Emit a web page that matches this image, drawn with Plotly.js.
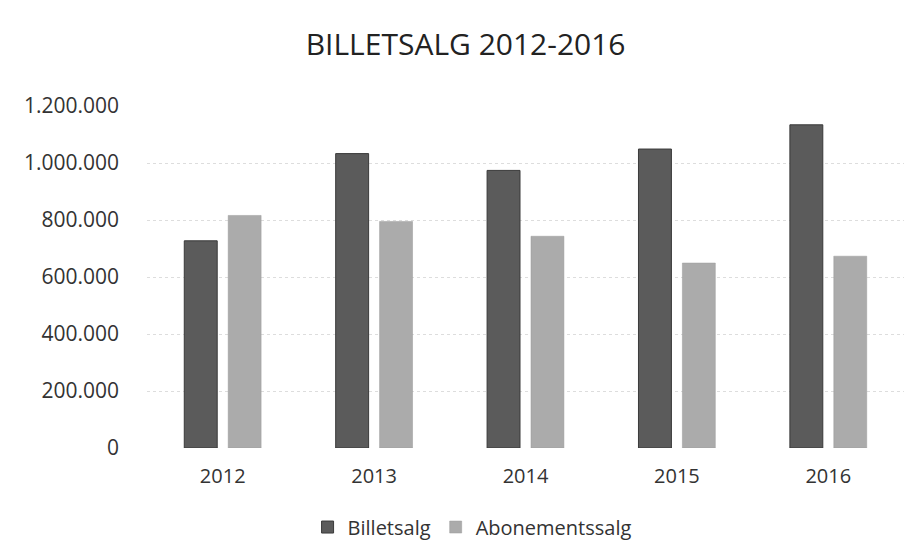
<!DOCTYPE html>
<html>
<head>
<meta charset="utf-8">
<script src="https://cdn.plot.ly/plotly-3.0.1.min.js"></script>
<style>html,body{margin:0;padding:0;background:#fff;}#chart{width:922px;height:540px;}</style>
</head>
<body>
<div id="chart"></div>
<script>
const years = ['2012', '2013', '2014', '2015', '2016'];
const billetsalg = [727000, 1033000, 974000, 1049000, 1134000];
const abonementssalg = [816000, 795000, 743000, 649000, 673000];
const seriesNames = ['Billetsalg', 'Abonementssalg'];
const titleText = 'BILLETSALG 2012-2016';

const fontFam = '"Open Sans", "Liberation Sans", sans-serif';
const traces = [
  {type: 'bar', name: seriesNames[0], x: years, y: billetsalg,
   marker: {color: '#5b5b5b', line: {color: '#3a3a3a', width: 1}}},
  {type: 'bar', name: seriesNames[1], x: years, y: abonementssalg,
   marker: {color: '#ababab', line: {color: '#9a9a9a', width: 0.5}}}
];
const layout = {
  width: 922, height: 540,
  paper_bgcolor: '#ffffff', plot_bgcolor: '#ffffff',
  separators: ',.',
  margin: {l: 147, r: 18, t: 106, b: 92},
  barmode: 'group', bargap: 0.42, bargroupgap: 0.25,
  font: {family: fontFam, color: '#333333', size: 20},
  title: {text: titleText, x: 0.505, xanchor: 'center', y: 0.918, yanchor: 'middle',
          font: {family: fontFam, size: 30, color: '#222222'}},
  xaxis: {type: 'category', showgrid: false, zeroline: false, showline: false,
          ticks: '', ticklabelstandoff: 14, tickfont: {size: 20, color: '#333333'}},
  yaxis: {range: [0, 1200000], dtick: 200000, tickformat: ',d',
          showgrid: true, gridcolor: '#dddddd', griddash: 'dot', gridwidth: 1,
          zeroline: false, showline: false, ticks: '', ticklabelstandoff: 27,
          tickfont: {size: 21, color: '#333333'}},
  showlegend: true,
  legend: {orientation: 'h', xref: 'container', x: 0.512, xanchor: 'center',
           yref: 'container', y: 0.024, yanchor: 'middle',
           font: {size: 20, color: '#333333'}, itemwidth: 30, traceorder: 'normal'}
};
Plotly.newPlot('chart', traces, layout, {displayModeBar: false, staticPlot: true});
</script>
</body>
</html>
